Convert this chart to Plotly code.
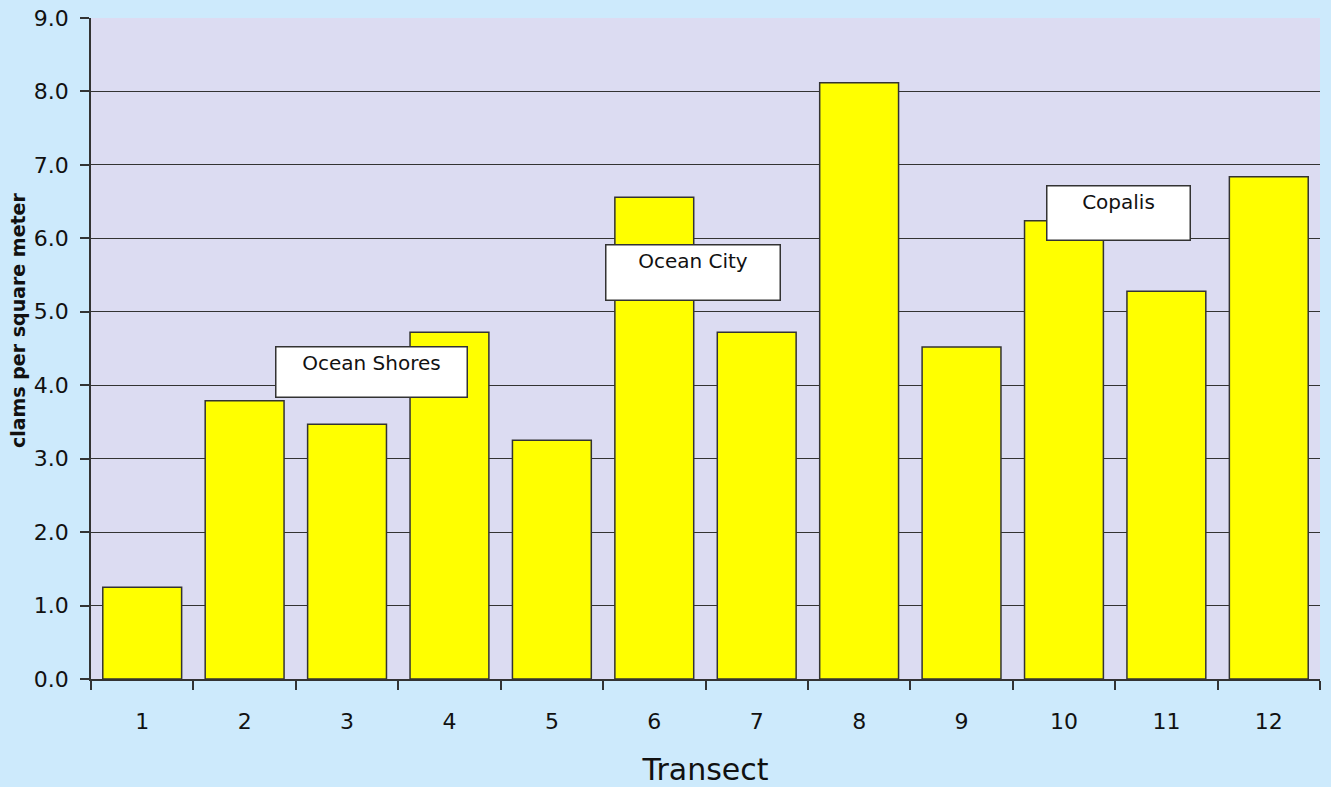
import plotly.graph_objects as go

transects = [str(i) for i in range(1, 13)]
clams = [1.25, 3.79, 3.47, 4.72, 3.25, 6.56, 4.72, 8.12, 4.52, 6.24, 5.28, 6.84]
y_ticks = [0, 1, 2, 3, 4, 5, 6, 7, 8, 9]
y_labels = [f"{v:.1f}" for v in y_ticks]

labels = ["Ocean Shores", "Ocean City", "Copalis"]
label_x = [2.24, 5.38, 9.53]
label_y = [4.18, 5.54, 6.35]
label_w = [184, 167, 136]
label_h = [43, 48, 47]

FONT = "DejaVu Sans"

fig = go.Figure()
fig.add_trace(go.Bar(
    x=transects, y=clams,
    marker=dict(color="#ffff00", line=dict(color="#333333", width=1.5)),
    hoverinfo="x+y",
))

for t, x, y, w, h in zip(labels, label_x, label_y, label_w, label_h):
    fig.add_annotation(
        x=x, y=y, xref="x", yref="y", text=t, showarrow=False,
        font=dict(family=FONT, size=20, color="#111111"),
        bgcolor="white", bordercolor="#333333", borderwidth=1.5,
        width=w, height=h, valign="top", borderpad=3,
    )

# y-axis title as rotated text
fig.add_annotation(
    x=-0.0594, y=0.543, xref="paper", yref="paper",
    text="<b>clams per square meter</b>", textangle=-90, showarrow=False,
    font=dict(family=FONT, size=19, color="#111111"),
    xanchor="center", yanchor="middle",
)

fig.update_layout(
    width=1331, height=787,
    margin=dict(l=91, r=11, t=18, b=108),
    paper_bgcolor="#cdeafc",
    plot_bgcolor="#dcdcf2",
    bargap=0.23,
    showlegend=False,
    font=dict(family=FONT, color="#111111"),
    xaxis=dict(
        type="category", tickson="boundaries", ticks="outside", ticklen=9,
        tickcolor="#333333", tickwidth=1.5,
        showline=True, linecolor="#333333", linewidth=1.5,
        showgrid=False, automargin=False, ticklabelstandoff=22,
        tickfont=dict(family=FONT, size=22, color="#111111"),
        title=dict(text="Transect", font=dict(family=FONT, size=30, color="#111111"), standoff=27),
    ),
    yaxis=dict(
        range=[0, 9], tickvals=y_ticks, ticktext=y_labels,
        ticks="outside", ticklen=9, tickcolor="#333333", tickwidth=1.5,
        showline=True, linecolor="#333333", linewidth=1.5,
        showgrid=True, gridcolor="#333333", gridwidth=1.2,
        zeroline=False, automargin=False, ticklabelstandoff=7,
        tickfont=dict(family=FONT, size=22, color="#111111"),
    ),
)

fig.write_html("out.html")
